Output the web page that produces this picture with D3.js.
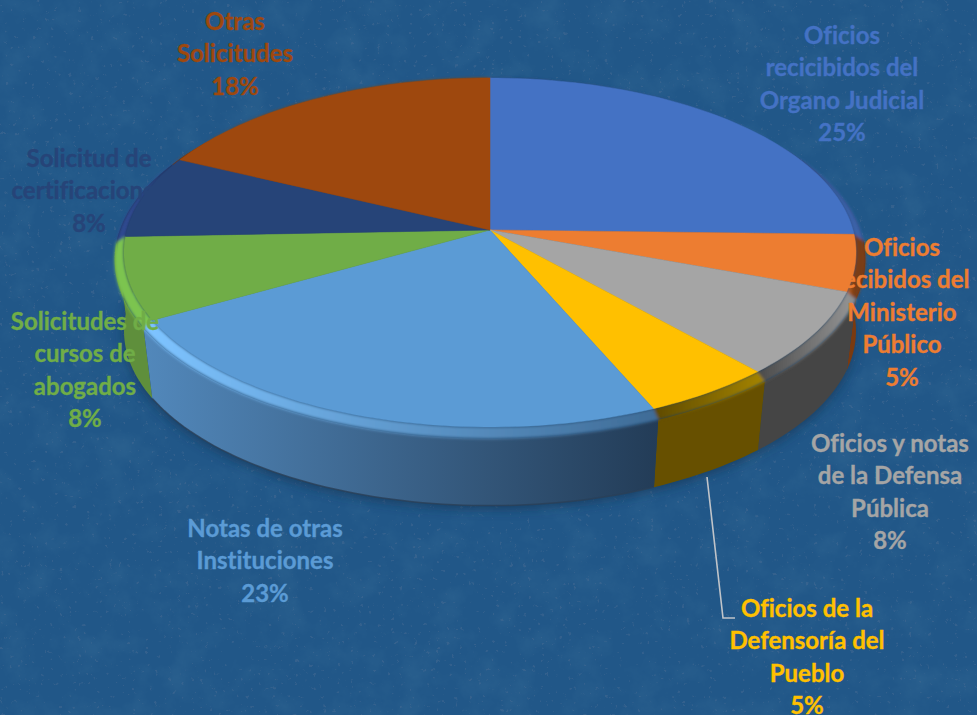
<!DOCTYPE html>
<html>
<head>
<meta charset="utf-8">
<script src="https://cdnjs.cloudflare.com/ajax/libs/d3/7.8.5/d3.min.js"></script>
<style>
  html, body { margin: 0; padding: 0; background: #215685; }
  svg { display: block; }
  text { font-family: Lato, "Open Sans", sans-serif; font-weight: 700; font-variant-ligatures: none; }
</style>
</head>
<body>
<script>
// chart data
var categories = [
    "Oficios recicibidos del Organo Judicial",
    "Oficios recibidos del Ministerio Público",
    "Oficios y notas de la Defensa Pública",
    "Oficios de la Defensoría del Pueblo",
    "Notas de otras Instituciones",
    "Solicitudes de cursos de abogados",
    "Solicitud de certificaciones",
    "Otras Solicitudes"
];
var values = [25.4, 5.2, 7.8, 5.1, 23.3, 7.6, 7.7, 17.9];

// how each category label wraps
var labelLines = [
    ["Oficios", "recicibidos del", "Organo Judicial"],
    ["Oficios", "recibidos del", "Ministerio", "Público"],
    ["Oficios y notas", "de la Defensa", "Pública"],
    ["Oficios de la", "Defensoría del", "Pueblo"],
    ["Notas de otras", "Instituciones"],
    ["Solicitudes de", "cursos de", "abogados"],
    ["Solicitud de", "certificaciones"],
    ["Otras", "Solicitudes"]
];

// label layout: centre x and baseline of the first line
var labelX = [842, 902, 890, 807, 265, 85, 89, 235];
var labelY = [44, 256, 452, 617, 537, 330, 167, 30];
var lineHeight = 32.4;

// colours
var topColors = ["#4472c4", "#ed7d31", "#a5a5a5", "#ffc000", "#5b9bd5", "#70ad47", "#264478", "#9e480e"];
var bevelColors = [
    ["#3a62a8", "#22406f"],
    ["#c9682a", "#7a3d14"],
    ["#4a4a4a", "#8f8f8f"],
    ["#5e4a00", "#a08000"],
    ["#7dc3ff", "#3f6c97"],
    ["#7cc450", "#7cc450"],
    ["#2e4a90", "#2e4a90"],
    ["#8a3f08", "#8a3f08"]
];
var sideColors = [
    ["#2d4a7f", "#2d4a7f"],
    ["#7a3a10", "#6d3410"],
    ["#454545", "#454545"],
    ["#675000", "#675000"],
    ["#5288bb", "#233c57"],
    ["#5f8f3c", "#5f8f3c"],
    ["#1b3156", "#1b3156"],
    ["#6b3009", "#6b3009"]
];

var w = 977;
var h = 715;

// perspective of the pie plate
var apexX = 490;
var apexY = 230;
var radiusX = 363;
var radiusY = 171.6;
var persp = 0.129;

// r = radius factor, s = shrink, drop = px down for the lower rims
function project(a, r, s, drop) {
    var u = Math.sin(a) * r;
    var v = -Math.cos(a) * r;
    var k = 1 - persp * v;
    return [apexX + s * radiusX * u / k, apexY + drop + s * radiusY * v / k];
}

var line = d3.line();

function arcPoints(a0, a1, r, s, drop) {
    var n = Math.max(2, Math.ceil((a1 - a0) * 40));
    var t = d3.scaleLinear().domain([0, n]).range([a0, a1]);
    return d3.range(n + 1).map(function(i) {
        return project(t(i), r, s, drop);
    });
}

var pie = d3.pie().sort(null)(values);

var svg = d3.select("body").append("svg")
    .attr("width", w)
    .attr("height", h);

var defs = svg.append("defs");

// faint mottling and sparse dark specks of the background
var paper = defs.append("filter").attr("id", "paper")
    .attr("x", 0).attr("y", 0).attr("width", "100%").attr("height", "100%");
paper.append("feTurbulence")
    .attr("type", "fractalNoise")
    .attr("baseFrequency", 0.03)
    .attr("numOctaves", 5)
    .attr("seed", 7);
paper.append("feColorMatrix")
    .attr("values", "0 0 0 0 0.09  0 0 0 0 0.25  0 0 0 0 0.4  1.6 0 0 0 -0.7");

var specks = defs.append("filter").attr("id", "specks")
    .attr("x", 0).attr("y", 0).attr("width", "100%").attr("height", "100%");
specks.append("feTurbulence")
    .attr("type", "fractalNoise")
    .attr("baseFrequency", 0.22)
    .attr("numOctaves", 3)
    .attr("seed", 23);
specks.append("feColorMatrix")
    .attr("values", "0 0 0 0 0.08  0 0 0 0 0.16  0 0 0 0 0.3  14 0 0 0 -10");

defs.append("filter").attr("id", "soft").append("feGaussianBlur").attr("stdDeviation", 1.5);
defs.append("filter").attr("id", "shadow")
    .attr("x", "-10%").attr("y", "-10%").attr("width", "120%").attr("height", "120%")
    .append("feGaussianBlur").attr("stdDeviation", 6);

function addGradient(id, stops) {
    var g = defs.append("linearGradient").attr("id", id)
        .attr("gradientUnits", "userSpaceOnUse")
        .attr("x1", 0).attr("y1", 0).attr("x2", 0).attr("y2", 0);
    g.append("stop").attr("offset", 0).attr("stop-color", stops[0]);
    g.append("stop").attr("offset", 1).attr("stop-color", stops[1]);
    return g;
}

svg.append("rect").attr("width", w).attr("height", h).attr("fill", "#215788");
svg.append("rect").attr("width", w).attr("height", h).attr("filter", "url(#paper)").attr("opacity", 0.22);
svg.append("rect").attr("width", w).attr("height", h).attr("filter", "url(#specks)").attr("opacity", 0.4);

// outer ring rim and lower rim of the plate
var bevelR = 1.025, bevelDrop = 6;
var baseS = 0.975, baseDrop = 78;

// soft shadow under the plate
svg.append("path")
    .attr("d", line(arcPoints(0, 2 * Math.PI, bevelR, baseS, baseDrop + 3)) + "Z")
    .attr("fill", "#12304f")
    .attr("opacity", 0.65)
    .attr("filter", "url(#shadow)");

// side walls, back slices first so the near ones stay on top
var order = pie.map(function(d, i) { return i; }).sort(function(a, b) {
    return -Math.cos((pie[a].startAngle + pie[a].endAngle) / 2) + Math.cos((pie[b].startAngle + pie[b].endAngle) / 2);
});

svg.append("g").selectAll("path")
    .data(order)
    .enter()
    .append("path")
    .attr("d", function(i) {
        var d = pie[i];
        var upper = arcPoints(d.startAngle, d.endAngle, bevelR, 1, bevelDrop);
        var lower = arcPoints(d.startAngle, d.endAngle, bevelR, baseS, baseDrop).reverse();
        return line(upper.concat(lower)) + "Z";
    })
    .attr("fill", function(i) {
        var d = pie[i];
        var a = project(d.endAngle, bevelR, 1, 0);
        var b = project(d.startAngle, bevelR, 1, 0);
        addGradient("side" + i, sideColors[i])
            .attr("x1", a[0]).attr("y1", 0).attr("x2", b[0]).attr("y2", 0);
        return "url(#side" + i + ")";
    });

// dark lower edge of the big front slice
svg.append("path")
    .attr("d", line(arcPoints(pie[4].startAngle, pie[4].endAngle, bevelR, baseS, baseDrop)))
    .attr("fill", "none")
    .attr("stroke", "#2a4058")
    .attr("stroke-width", 1.5)
    .attr("opacity", 0.8);

// rounded rim between wall and top face
var rim = svg.append("g").attr("filter", "url(#soft)");
rim.selectAll("path")
    .data(order)
    .enter()
    .append("path")
    .attr("d", function(i) {
        var d = pie[i];
        var upper = arcPoints(d.startAngle, d.endAngle, 1, 1, 0);
        var lower = arcPoints(d.startAngle, d.endAngle, bevelR, 1, bevelDrop).reverse();
        return line(upper.concat(lower)) + "Z";
    })
    .attr("fill", function(i) {
        var d = pie[i];
        var a = project(d.endAngle, 1, 1, 0);
        var b = project(d.startAngle, 1, 1, 0);
        addGradient("rim" + i, bevelColors[i])
            .attr("x1", a[0]).attr("y1", 0).attr("x2", b[0]).attr("y2", 0);
        return "url(#rim" + i + ")";
    });

// top face
svg.append("g").selectAll("path")
    .data(pie)
    .enter()
    .append("path")
    .attr("d", function(d) {
        return line([[apexX, apexY]].concat(arcPoints(d.startAngle, d.endAngle, 1, 1, 0))) + "Z";
    })
    .attr("fill", function(d, i) { return topColors[i]; })
    .attr("stroke", function(d, i) { return topColors[i]; })
    .attr("stroke-width", 0.5);

// leader line of the Defensoría label
svg.append("path")
    .attr("d", line([[707, 477], [723, 618], [735, 618]]))
    .attr("fill", "none")
    .attr("stroke", "#c0c4c9")
    .attr("stroke-width", 1.6);

// labels: wrapped category name plus the percentage
var fmt = d3.format(".0f");
var labels = svg.append("g").selectAll("text")
    .data(categories)
    .enter()
    .append("text")
    .attr("text-anchor", "middle")
    .attr("font-size", 24)
    .attr("fill", function(d, i) { return topColors[i]; })
    .attr("stroke", function(d, i) { return topColors[i]; })
    .attr("stroke-width", 0.35);

labels.each(function(d, i) {
    var rows = labelLines[i].concat(fmt(values[i]) + "%");
    d3.select(this).selectAll("tspan")
        .data(rows)
        .enter()
        .append("tspan")
        .attr("x", labelX[i])
        .attr("y", function(r, j) { return labelY[i] + j * lineHeight; })
        .text(function(r) { return r; });
});
</script>
</body>
</html>
